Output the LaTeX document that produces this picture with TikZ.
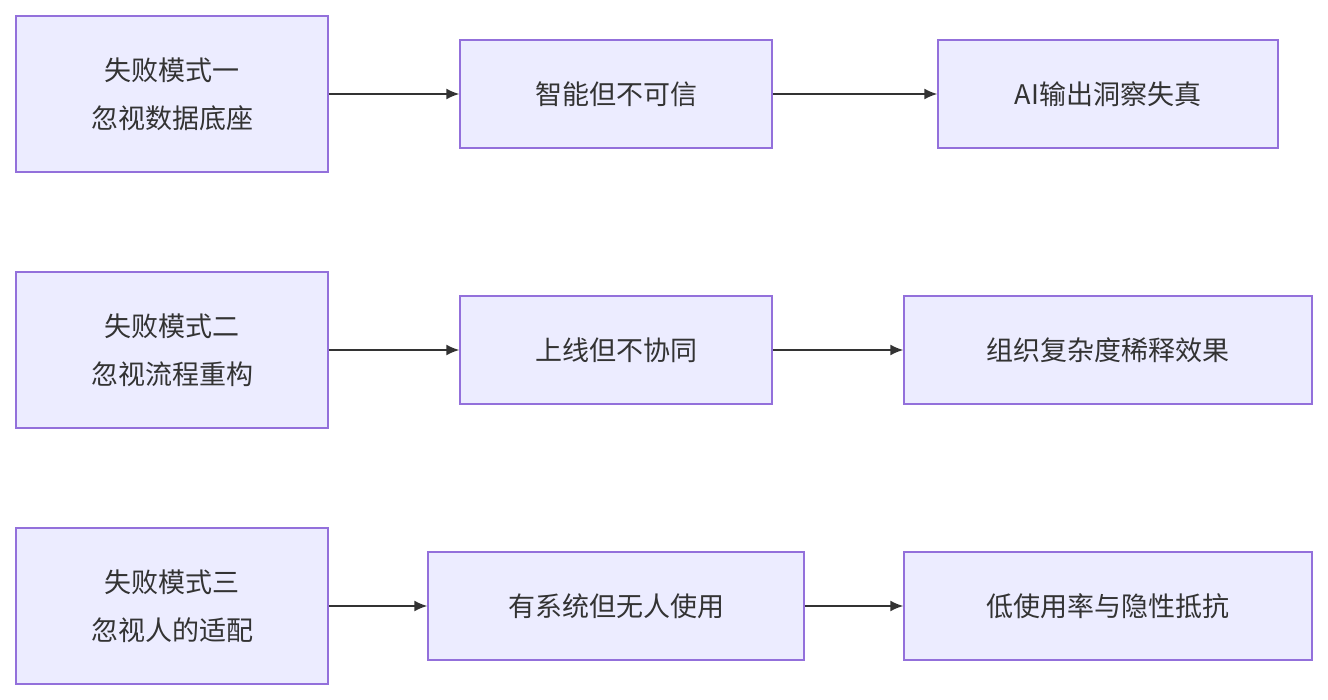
\documentclass[tikz,border=0pt]{standalone}
\usepackage{fontspec}
\setmainfont{Noto Sans CJK SC}
\usetikzlibrary{arrows.meta}
\definecolor{boxfill}{HTML}{ECECFF}
\definecolor{boxline}{HTML}{9370DB}
\definecolor{ink}{HTML}{333333}
\begin{document}
\begin{tikzpicture}[x=1pt,y=-1pt,
    box/.style={draw=boxline,fill=boxfill,line width=1.5pt,text=ink,
      inner sep=0pt,align=center,font=\fontsize{27}{48}\selectfont},
    link/.style={draw=ink,line width=1.5pt,-{Latex[length=13pt,width=11pt]}}]
    \useasboundingbox (0,0) rectangle (1328,700);
    % row one
    \node[box,minimum width=312pt,minimum height=156pt] (fail1) at (172,94) {失败模式一\\忽视数据底座};
    \node[box,minimum width=312pt,minimum height=108pt] (mid1) at (616,94) {智能但不可信};
    \node[box,minimum width=340pt,minimum height=108pt] (end1) at (1108,94) {AI输出洞察失真};
    % row two
    \node[box,minimum width=312pt,minimum height=156pt] (fail2) at (172,350) {失败模式二\\忽视流程重构};
    \node[box,minimum width=312pt,minimum height=108pt] (mid2) at (616,350) {上线但不协同};
    \node[box,minimum width=408pt,minimum height=108pt] (end2) at (1108,350) {组织复杂度稀释效果};
    % row three
    \node[box,minimum width=312pt,minimum height=156pt] (fail3) at (172,606) {失败模式三\\忽视人的适配};
    \node[box,minimum width=376pt,minimum height=108pt] (mid3) at (616,606) {有系统但无人使用};
    \node[box,minimum width=408pt,minimum height=108pt] (end3) at (1108,606) {低使用率与隐性抵抗};
    \foreach \i in {1,2,3} {
        \draw[link] (fail\i) -- (mid\i);
        \draw[link] (mid\i) -- (end\i);
    }
\end{tikzpicture}
\end{document}
